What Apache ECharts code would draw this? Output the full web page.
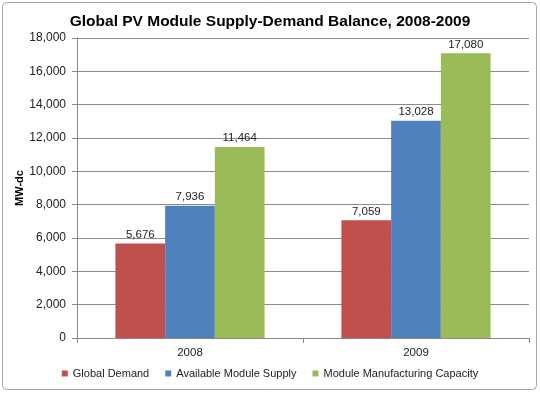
<!DOCTYPE html>
<html><head><meta charset="utf-8">
<script src="https://cdn.jsdelivr.net/npm/echarts@6/dist/echarts.min.js"></script>
<style>html,body{margin:0;padding:0;background:#fff}#c{width:540px;height:393px}</style>
</head><body><div id="c"></div>
<script>
const categories = ['2008', '2009'];
const seriesNames = ['Global Demand', 'Available Module Supply', 'Module Manufacturing Capacity'];
const globalDemand = [5676, 7059];
const availableSupply = [7936, 13028];
const manufacturingCapacity = [11464, 17080];
const colors = ['#C0504D', '#4F81BD', '#9BBB59'];
const values = [globalDemand, availableSupply, manufacturingCapacity];
const yAxisName = 'MW-dc';

const chart = echarts.init(document.getElementById('c'), null, {renderer: 'canvas'});
const font = 'Liberation Sans, Arial, sans-serif';
chart.setOption({
  animation: false,
  textStyle: {fontFamily: font},
  title: {
    text: 'Global PV Module Supply-Demand Balance, 2008-2009',
    left: 'center', top: 9,
    textStyle: {fontSize: 15.5, fontWeight: 'bold', color: '#000', fontFamily: font}
  },
  graphic: [{
    type: 'rect', shape: {x: 2.5, y: 2.5, width: 534, height: 387, r: 4},
    style: {fill: 'none', stroke: '#a6a6a6', lineWidth: 1}, silent: true, z: -1
  }, {
    type: 'text', x: 20, y: 188, rotation: Math.PI / 2,
    style: {text: yAxisName, font: 'bold 11px ' + font, fill: '#000', align: 'center', verticalAlign: 'middle'},
    silent: true
  }],
  legend: {
    bottom: 9, left: 'center', itemWidth: 6, itemHeight: 6, itemGap: 16,
    icon: 'rect',
    textStyle: {fontSize: 11, color: '#222', fontFamily: font},
    data: seriesNames
  },
  grid: {left: 77, right: 11, top: 38, bottom: 55, containLabel: false},
  xAxis: {
    type: 'category', data: categories,
    axisLine: {lineStyle: {color: '#888'}},
    axisTick: {show: true, length: 5, lineStyle: {color: '#888'}},
    axisLabel: {fontSize: 11.5, color: '#222', margin: 9, fontFamily: font}
  },
  yAxis: {
    type: 'value', min: 0, max: 18000, interval: 2000,
    axisLine: {show: true, lineStyle: {color: '#888'}},
    axisTick: {show: true, length: 5, inside: false, lineStyle: {color: '#888'}},
    axisLabel: {fontSize: 12, color: '#222', margin: 11, fontFamily: font,
      formatter: v => v.toLocaleString('en-US')},
    splitLine: {lineStyle: {color: '#8c8c8c', width: 1}}
  },
  series: seriesNames.map((n, i) => ({
    name: n, type: 'bar', data: values[i],
    barGap: '0%', barCategoryGap: '34%',
    itemStyle: {color: colors[i]},
    label: {show: true, position: 'top', distance: 3, fontSize: 11.5, color: '#222', fontFamily: font,
      formatter: p => p.value.toLocaleString('en-US')}
  }))
});
</script></body></html>
